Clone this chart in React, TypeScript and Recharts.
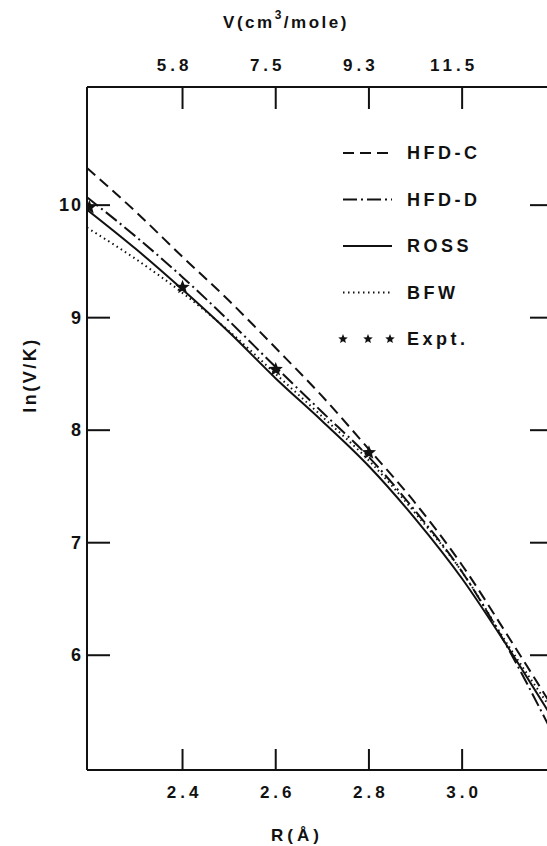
import React from "react";
import { ComposedChart, Line, Scatter, XAxis, YAxis, Legend } from "recharts";

// R (Angstrom) sample points along the curves
const rValues = [2.195, 2.3, 2.4, 2.5, 2.6, 2.7, 2.8, 2.9, 3.0, 3.1, 3.185];
const hfdC = [10.33, 9.94, 9.54, 9.15, 8.73, 8.3, 7.83, 7.35, 6.8, 6.16, 5.6];
const hfdD = [10.07, 9.72, 9.36, 8.97, 8.56, 8.16, 7.76, 7.28, 6.74, 6.05, 5.38];
const ross = [9.96, 9.61, 9.25, 8.87, 8.46, 8.08, 7.68, 7.21, 6.68, 6.06, 5.5];
const bfw = [9.8, 9.52, 9.22, 8.88, 8.5, 8.12, 7.73, 7.26, 6.74, 6.08, 5.56];

const exptR = [2.2, 2.4, 2.6, 2.8];
const exptV = [9.98, 9.27, 8.54, 7.8];

const rTicks = [2.4, 2.6, 2.8, 3.0];
const topLabels = ["5.8", "7.5", "9.3", "11.5"];
const lnTicks = [6, 7, 8, 9, 10];

const FONT = '"Liberation Sans", Arial, sans-serif';
const INK = "#111";

const curveData = rValues.map((r, i) => ({
  r,
  hfdC: hfdC[i],
  hfdD: hfdD[i],
  ross: ross[i],
  bfw: bfw[i],
}));
const exptData = exptR.map((r, i) => ({ r, v: exptV[i] }));

const SERIES = [
  { key: "hfdC", name: "HFD-C", dash: "11 6" },
  { key: "hfdD", name: "HFD-D", dash: "14 4 2 4" },
  { key: "ross", name: "ROSS", dash: undefined },
  { key: "bfw", name: "BFW", dash: "1.5 3.5" },
];

const textStyle = {
  fontFamily: FONT,
  fontWeight: 700,
  fill: INK,
};

function starPoints(cx: number, cy: number, outer: number, inner: number) {
  const pts: string[] = [];
  for (let i = 0; i < 10; i++) {
    const a = -Math.PI / 2 + (i * Math.PI) / 5;
    const rad = i % 2 === 0 ? outer : inner;
    pts.push(`${cx + rad * Math.cos(a)},${cy + rad * Math.sin(a)}`);
  }
  return pts.join(" ");
}

const StarDot = (props: any) => (
  <polygon points={starPoints(props.cx, props.cy, 7.5, 3.2)} fill={INK} />
);

const LeftTick = ({ x, y, payload }: any) => (
  <g>
    <line x1={x} x2={x + 23} y1={y} y2={y} stroke={INK} strokeWidth={2} />
    <text
      x={x - 4}
      y={y}
      textAnchor="end"
      dominantBaseline="central"
      style={{ ...textStyle, fontSize: 18, letterSpacing: 2 }}
    >
      {payload.value}
    </text>
  </g>
);

const RightTick = ({ x, y }: any) => (
  <line x1={x} x2={x - 23} y1={y} y2={y} stroke={INK} strokeWidth={2} />
);

const BottomTick = ({ x, y, payload }: any) => (
  <g>
    <line x1={x} x2={x} y1={y} y2={y - 21} stroke={INK} strokeWidth={2} />
    <text
      x={x + 2}
      y={y + 22}
      textAnchor="middle"
      dominantBaseline="central"
      style={{ ...textStyle, fontSize: 17, letterSpacing: 4 }}
    >
      {Number(payload.value).toFixed(1)}
    </text>
  </g>
);

const TopTick = ({ x, y, payload }: any) => {
  const label = topLabels[rTicks.indexOf(payload.value)];
  return (
    <g>
      <line x1={x} x2={x} y1={y} y2={y + 22} stroke={INK} strokeWidth={2} />
      <text
        x={x - 8}
        y={y - 22}
        textAnchor="middle"
        dominantBaseline="central"
        style={{ ...textStyle, fontSize: 17, letterSpacing: 4 }}
      >
        {label}
      </text>
    </g>
  );
};

const LegendBox = () => {
  const rows = [...SERIES.map((s) => ({ name: s.name, dash: s.dash, star: false })), { name: "Expt.", dash: undefined, star: true }];
  return (
    <svg width={210} height={220}>
      {rows.map((row, i) => {
        const cy = 13 + i * 46.5;
        return (
          <g key={row.name}>
            {row.star ? (
              [8, 33, 55].map((sx) => (
                <polygon key={sx} points={starPoints(sx, cy, 5, 2.2)} fill={INK} />
              ))
            ) : (
              <line
                x1={8}
                x2={57}
                y1={cy}
                y2={cy}
                stroke={INK}
                strokeWidth={2}
                strokeDasharray={row.dash}
              />
            )}
            <text
              x={72}
              y={cy}
              dominantBaseline="central"
              style={{ ...textStyle, fontSize: 18, letterSpacing: 3.5 }}
            >
              {row.name}
            </text>
          </g>
        );
      })}
    </svg>
  );
};

export default function App() {
  return (
    <div
      style={{
        position: "fixed",
        left: 0,
        top: 0,
        width: 547,
        height: 846,
        overflow: "hidden",
        background: "#fff",
      }}
    >
      <ComposedChart
        width={570}
        height={846}
        margin={{ top: 47, right: 7, bottom: 36, left: 47 }}
      >
        <XAxis
          dataKey="r"
          type="number"
          domain={[2.195, 3.195]}
          allowDataOverflow
          ticks={rTicks}
          interval={0}
          height={40}
          tickSize={0}
          tickMargin={0}
          tickLine={false}
          axisLine={{ stroke: INK, strokeWidth: 2 }}
          tick={<BottomTick />}
          label={{
            content: ({ viewBox }: any) => (
              <text
                x={297}
                y={viewBox.y + 65}
                textAnchor="middle"
                dominantBaseline="central"
                style={{ ...textStyle, fontSize: 17, letterSpacing: 4 }}
              >
                R(Å)
              </text>
            ),
          }}
        />
        <XAxis
          xAxisId="top"
          orientation="top"
          dataKey="r"
          type="number"
          domain={[2.195, 3.195]}
          allowDataOverflow
          ticks={rTicks}
          interval={0}
          height={40}
          tickSize={0}
          tickMargin={0}
          tickLine={false}
          axisLine={{ stroke: INK, strokeWidth: 2 }}
          tick={<TopTick />}
          label={{
            content: () => (
              <text
                x={286}
                y={22}
                textAnchor="middle"
                dominantBaseline="central"
                style={{ ...textStyle, fontSize: 17, letterSpacing: 2.5 }}
              >
                V(cm
                <tspan dy={-7} style={{ fontSize: 12 }}>
                  3
                </tspan>
                <tspan dy={7}>/mole)</tspan>
              </text>
            ),
          }}
        />
        <YAxis
          type="number"
          domain={[4.98, 11.05]}
          allowDataOverflow
          ticks={lnTicks}
          interval={0}
          width={40}
          tickSize={0}
          tickMargin={0}
          tickLine={false}
          axisLine={{ stroke: INK, strokeWidth: 2 }}
          tick={<LeftTick />}
          label={{
            content: () => (
              <text
                x={30}
                y={375}
                textAnchor="middle"
                dominantBaseline="central"
                transform="rotate(-90 30 375)"
                style={{ ...textStyle, fontSize: 18, letterSpacing: 2.5 }}
              >
                ln(V/K)
              </text>
            ),
          }}
        />
        <YAxis
          yAxisId="right"
          orientation="right"
          type="number"
          domain={[4.98, 11.05]}
          allowDataOverflow
          ticks={lnTicks}
          interval={0}
          width={10}
          tickSize={0}
          tickMargin={0}
          tickLine={false}
          axisLine={{ stroke: INK, strokeWidth: 2 }}
          tick={<RightTick />}
        />
        {SERIES.map((s) => (
          <Line
            key={s.key}
            data={curveData}
            dataKey={s.key}
            name={s.name}
            type="monotone"
            stroke={INK}
            strokeWidth={2}
            strokeDasharray={s.dash}
            dot={false}
            activeDot={false}
            isAnimationActive={false}
          />
        ))}
        <Scatter
          data={exptData}
          dataKey="v"
          name="Expt."
          fill={INK}
          shape={<StarDot />}
          isAnimationActive={false}
        />
        <Legend
          layout="vertical"
          align="center"
          verticalAlign="middle"
          wrapperStyle={{ position: "absolute", left: 335, top: 140, width: 210, height: 220 }}
          content={() => <LegendBox />}
        />
      </ComposedChart>
    </div>
  );
}
